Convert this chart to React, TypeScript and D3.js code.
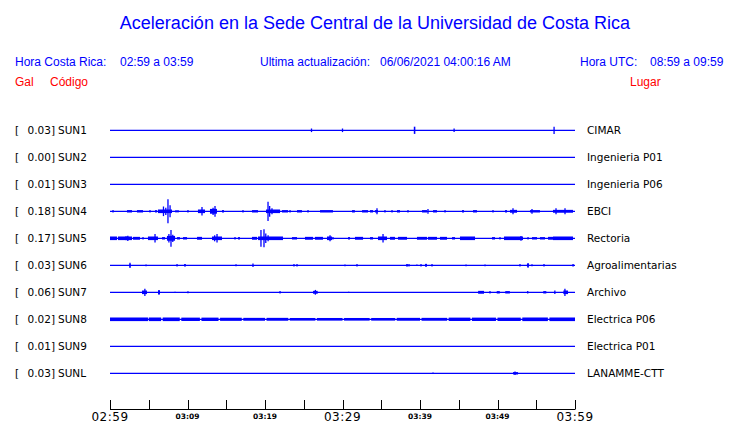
import React from 'react';
import * as d3 from 'd3';

type Burst = [number, number, number]; // [start minute, end minute, relative amplitude]

const codes = ['SUN1', 'SUN2', 'SUN3', 'SUN4', 'SUN5', 'SUN6', 'SUN7', 'SUN8', 'SUN9', 'SUNL'];
const gals = [0.03, 0.0, 0.01, 0.18, 0.17, 0.03, 0.06, 0.02, 0.01, 0.03];
const places = [
  'CIMAR', 'Ingenieria P01', 'Ingenieria P06', 'EBCI', 'Rectoria',
  'Agroalimentarias', 'Archivo', 'Electrica P06', 'Electrica P01', 'LANAMME-CTT',
];

const sun1: Burst[] = [[26.0, 26.0, 0.15], [30.0, 30.0, 0.15], [39.2, 39.4, 0.3], [44.4, 44.4, 0.15], [57.3, 57.3, 0.3]];
const sun2: Burst[] = [];
const sun3: Burst[] = [];
const sun4: Burst[] = [
  [0.39, 0.39, 0.1], [2.19, 2.84, 0.1], [3.48, 4.26, 0.1], [5.16, 5.16, 0.1], [5.81, 6.06, 0.1],
  [6.19, 8.0, 0.15], [6.9, 6.9, 0.4], [7.48, 7.48, 1.0], [7.75, 7.75, 0.5], [7.2, 7.2, 0.3],
  [8.52, 8.52, 0.1], [8.77, 8.77, 0.1], [10.06, 10.06, 0.1],
  [11.35, 12.26, 0.15], [11.87, 11.87, 0.35], [12.9, 13.8, 0.2], [13.55, 13.55, 0.45], [13.3, 13.3, 0.3],
  [14.45, 14.71, 0.1], [17.16, 17.16, 0.1], [18.32, 19.1, 0.1],
  [20.13, 21.94, 0.15], [20.39, 20.39, 0.8], [20.6, 20.6, 0.45], [20.9, 20.9, 0.25],
  [22.19, 22.97, 0.1], [23.23, 23.23, 0.1], [24.13, 24.77, 0.1], [25.55, 25.55, 0.1], [27.1, 28.77, 0.1],
  [31.23, 31.6, 0.1], [32.52, 33.29, 0.1], [33.55, 33.94, 0.1], [34.19, 34.58, 0.1], [34.45, 34.45, 0.25],
  [35.48, 35.48, 0.1], [36.39, 36.39, 0.1], [37.03, 37.42, 0.1], [38.45, 38.45, 0.1],
  [40.26, 40.9, 0.1], [41.03, 41.03, 0.2], [41.68, 42.19, 0.1], [43.23, 43.23, 0.1],
  [45.42, 45.68, 0.1], [46.84, 47.35, 0.1], [49.42, 49.42, 0.1],
  [50.97, 51.23, 0.1], [51.61, 52.52, 0.12], [52.0, 52.0, 0.25],
  [54.19, 55.48, 0.1], [54.45, 54.45, 0.2], [57.16, 59.74, 0.12], [57.55, 57.55, 0.25], [58.71, 58.71, 0.25],
];
const sun5: Burst[] = [
  [0, 0.9, 0.15], [1.03, 2.19, 0.15], [1.94, 2.84, 0.15], [2.3, 2.3, 0.22], [2.97, 3.87, 0.12], [4.26, 4.26, 0.1],
  [4.9, 6.19, 0.15], [5.81, 5.81, 0.35], [6.71, 7.1, 0.1],
  [7.35, 8.39, 0.2], [7.87, 7.87, 0.7], [7.6, 7.6, 0.35], [8.1, 8.1, 0.3],
  [8.65, 9.03, 0.1], [9.42, 9.94, 0.1], [11.23, 11.87, 0.12],
  [13.16, 14.45, 0.15], [13.81, 13.81, 0.35], [13.5, 13.5, 0.25],
  [16.13, 16.13, 0.1], [16.52, 16.77, 0.1], [18.32, 18.97, 0.12],
  [19.1, 22.32, 0.15], [19.48, 19.48, 0.7], [19.87, 19.87, 0.75], [20.1, 20.1, 0.4], [20.4, 20.4, 0.25],
  [23.48, 24.13, 0.1], [25.16, 26.19, 0.12], [26.45, 27.48, 0.12],
  [28.0, 28.65, 0.15], [28.39, 28.39, 0.25], [28.77, 28.77, 0.1],
  [30.71, 30.97, 0.1], [31.61, 32.65, 0.12], [33.55, 33.94, 0.1],
  [34.58, 35.74, 0.15], [35.23, 35.23, 0.35], [36.13, 36.77, 0.12], [37.16, 38.32, 0.12],
  [39.61, 40.9, 0.12], [41.03, 42.19, 0.12], [42.58, 43.48, 0.12], [44.13, 44.52, 0.1], [45.16, 47.1, 0.15],
  [49.29, 49.68, 0.1], [50.32, 50.32, 0.1], [50.84, 53.29, 0.15], [53.03, 53.03, 0.2],
  [53.94, 53.94, 0.1], [54.45, 55.1, 0.1], [55.48, 56.13, 0.1], [56.52, 57.16, 0.12], [57.16, 59.74, 0.15],
];
const sun6: Burst[] = [
  [2.5, 2.66, 0.12], [2.58, 2.58, 0.22], [4.65, 4.65, 0.07], [8.65, 8.65, 0.1], [9.55, 9.8, 0.1], [16.26, 16.26, 0.08],
  [18.45, 18.45, 0.15], [23.74, 23.74, 0.1], [24.13, 24.13, 0.1], [30.32, 30.32, 0.07], [31.87, 31.87, 0.1],
  [38.2, 38.45, 0.1], [38.58, 38.58, 0.1], [39.6, 39.6, 0.06], [40.13, 40.13, 0.1], [40.65, 40.9, 0.12],
  [41.55, 41.55, 0.1], [45.94, 45.94, 0.07], [48.39, 48.39, 0.07], [52.9, 52.9, 0.1],
  [53.8, 54.05, 0.12], [53.94, 53.94, 0.2], [54.45, 54.45, 0.08], [56.0, 56.0, 0.1], [59.65, 59.85, 0.1],
];
const sun7: Burst[] = [
  [4.13, 4.77, 0.15], [4.5, 4.5, 0.3], [6.2, 6.45, 0.15], [6.32, 6.32, 0.2], [8.39, 8.39, 0.05],
  [10.06, 10.06, 0.08], [21.94, 21.94, 0.1], [26.2, 26.8, 0.12], [26.5, 26.5, 0.2], [30.8, 30.8, 0.05],
  [47.5, 48.26, 0.12], [49.03, 49.03, 0.1], [49.9, 50.3, 0.1], [51.0, 51.6, 0.1], [53.9, 53.9, 0.1],
  [55.9, 56.3, 0.1], [57.4, 57.4, 0.15], [58.5, 59.1, 0.15], [58.7, 58.7, 0.3],
];
const sun8: Burst[] = [
  [0, 4.9, 0.15], [5.0, 6.6, 0.15], [6.8, 9.0, 0.15], [9.2, 11.6, 0.14], [11.8, 14.0, 0.14],
  [14.2, 17.0, 0.13], [17.2, 20.0, 0.12], [20.2, 23.0, 0.12], [23.2, 26.5, 0.11], [26.7, 30.0, 0.11],
  [30.2, 33.5, 0.11], [33.7, 36.8, 0.11], [37.0, 40.0, 0.12], [40.2, 43.5, 0.12], [43.7, 46.5, 0.14],
  [46.7, 49.8, 0.14], [50.0, 53.0, 0.14], [53.2, 56.5, 0.15], [56.7, 60, 0.15],
];
const sun9: Burst[] = [];
const sunl: Burst[] = [[41.68, 41.68, 0.06], [52.0, 52.65, 0.1], [52.26, 52.26, 0.15]];

const bursts = [sun1, sun2, sun3, sun4, sun5, sun6, sun7, sun8, sun9, sunl];

const tickMinutes = d3.range(0, 61, 5);
const majorLabels = ['02:59', '03:29', '03:59'];
const minorLabels = ['03:09', '03:19', '03:39', '03:49'];

const W = 740;
const H = 423;
const BLUE = '#0000ff';
const RED = '#ff0000';
const HEAD = '"Liberation Sans", Arial, sans-serif';
const MONO = '"DejaVu Sans", sans-serif';

export default function App() {
  const start = new Date(2021, 5, 6, 2, 59);
  const fmt = d3.timeFormat('%H:%M');
  const x = d3.scaleLinear().domain([0, 60]).range([110, 575]);
  const row = d3.scalePoint<string>().domain(codes).range([130.3, 373.3]);
  const amp = d3.scaleLinear().domain([-1, 1]).range([12, -12]);

  return (
    <svg width={W} height={H} style={{ position: 'absolute', left: 0, top: 0, background: '#fff' }}>
      <text x={375} y={29} textAnchor="middle" fill={BLUE} fontFamily={HEAD} fontSize={18}>
        Aceleración en la Sede Central de la Universidad de Costa Rica
      </text>

      <g fill={BLUE} fontFamily={HEAD} fontSize={12}>
        <text x={15} y={65.5}>Hora Costa Rica:</text>
        <text x={120} y={65.5}>02:59 a 03:59</text>
        <text x={260} y={65.5}>Ultima actualización:</text>
        <text x={380} y={65.5}>06/06/2021 04:00:16 AM</text>
        <text x={580} y={65.5}>Hora UTC:</text>
        <text x={650} y={65.5}>08:59 a 09:59</text>
      </g>
      <g fill={RED} fontFamily={HEAD} fontSize={12}>
        <text x={15} y={86}>Gal</text>
        <text x={50} y={86}>Código</text>
        <text x={630} y={86}>Lugar</text>
      </g>

      {codes.map((c, i) => {
        const y = row(c)!;
        return (
          <g key={c}>
            <g fontFamily={MONO} fontSize={10.5} fill="#000">
              <text x={15} y={y + 4}>[</text>
              <text x={55} y={y + 4} textAnchor="end">{gals[i].toFixed(2) + ']'}</text>
              <text x={58} y={y + 4}>{c}</text>
              <text x={587} y={y + 4}>{places[i]}</text>
            </g>
            <line x1={x(0)} x2={x(60)} y1={y} y2={y} stroke={BLUE} strokeWidth={1.3} />
            {bursts[i].map(([t0, t1, a], j) =>
              t1 - t0 < 0.05 ? (
                <line key={j} x1={x(t0)} x2={x(t0)} y1={y + amp(a)} y2={y + amp(-a)} stroke={BLUE} strokeWidth={1.3} />
              ) : (
                <rect key={j} x={x(t0)} width={x(t1) - x(t0)} y={y + amp(a)} height={amp(-a) - amp(a)} fill={BLUE} />
              )
            )}
          </g>
        );
      })}

      <g stroke="#000" strokeWidth={1}>
        <line x1={x(0)} x2={x(60)} y1={409.5} y2={409.5} />
        {tickMinutes.map((m) => (
          <line key={m} x1={Math.round(x(m)) + 0.5} x2={Math.round(x(m)) + 0.5} y1={400} y2={409.5} />
        ))}
      </g>
      {tickMinutes.map((m) => {
        const label = fmt(d3.timeMinute.offset(start, m));
        if (majorLabels.includes(label)) {
          return (
            <text key={m} x={x(m)} y={421} textAnchor="middle" fontFamily={MONO} fontSize={12} letterSpacing={0.5}>
              {label}
            </text>
          );
        }
        if (minorLabels.includes(label)) {
          return (
            <text key={m} x={x(m)} y={418.5} textAnchor="middle" fontFamily={MONO} fontSize={7.5} fontWeight="bold">
              {label}
            </text>
          );
        }
        return null;
      })}
    </svg>
  );
}
